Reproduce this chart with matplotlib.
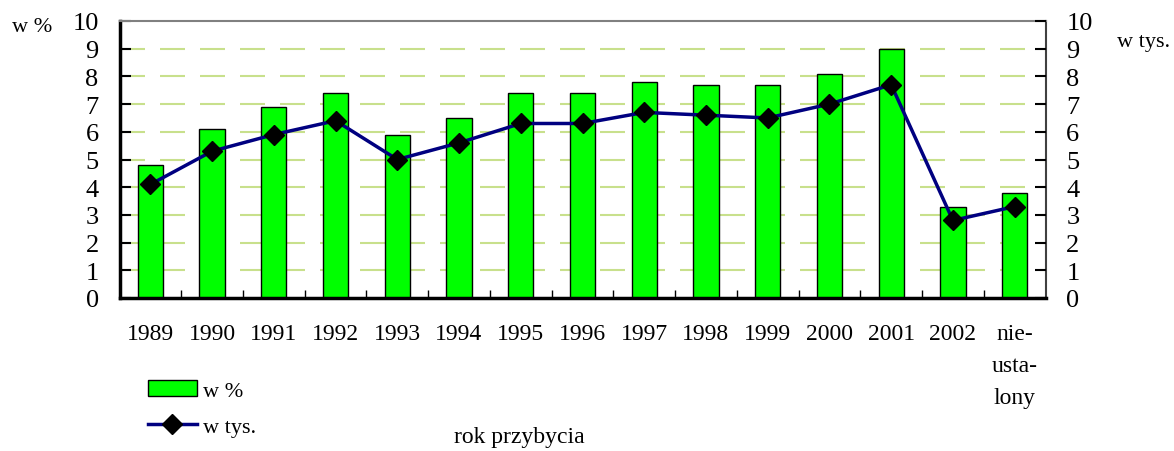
import matplotlib
matplotlib.use("Agg")
import matplotlib.pyplot as plt
from matplotlib.ticker import FixedLocator

plt.rcParams['font.family'] = ['Liberation Serif', 'DejaVu Serif']

# Data
years = ["1989", "1990", "1991", "1992", "1993", "1994", "1995", "1996",
         "1997", "1998", "1999", "2000", "2001", "2002", "nie-\nusta-\nlony"]
pct = [4.8, 6.1, 6.9, 7.4, 5.9, 6.5, 7.4, 7.4, 7.8, 7.7, 7.7, 8.1, 9.0, 3.3, 3.8]
thousands = [4.1, 5.3, 5.9, 6.4, 5.0, 5.6, 6.3, 6.3, 6.7, 6.6, 6.5, 7.0, 7.7, 2.8, 3.3]

x = list(range(len(years)))

fig = plt.figure(figsize=(11.74, 4.52), dpi=100)
ax = fig.add_axes([119.5 / 1174, 1 - 299 / 452, (1045.5 - 119.5) / 1174, (299 - 22) / 452])

# Grid
for v in range(1, 10):
    ax.axhline(v, color="#c8e08c", lw=1.5, dashes=(12, 7.2), zorder=0)

bars = ax.bar(x, pct, width=0.41, color="#00ff00", edgecolor="black", lw=1, zorder=2, label="w %")

ax.set_xlim(-0.5, len(years) - 0.5)
ax.set_ylim(0, 10)
ax.set_yticks(range(0, 11))
ax.tick_params(axis="y", direction="in", length=8, width=1.5, labelsize=19, pad=15)
ax.set_xticks(x)
ax.set_xticklabels(years, fontsize=17, va="top", linespacing=1.7)
ax.tick_params(axis="x", which="major", length=0, pad=18)
ax.xaxis.set_minor_locator(FixedLocator([i + 0.5 for i in x[:-1]]))
ax.tick_params(axis="x", which="minor", direction="in", length=6, width=1)

for side in ["left", "bottom"]:
    ax.spines[side].set_linewidth(2.5)
    ax.spines[side].set_color("black")
ax.spines["top"].set_color("#808080")
ax.spines["top"].set_linewidth(1.5)
ax.spines["right"].set_color("#404040")
ax.spines["right"].set_linewidth(1.5)

ax2 = ax.twinx()
line, = ax2.plot(x, thousands, color="#000080", lw=2.5, marker="D", markersize=10,
                 markerfacecolor="black", markeredgecolor="black", zorder=3, label="w tys.")
ax2.set_ylim(0, 10)
ax2.set_yticks(range(0, 11))
ax2.tick_params(axis="y", direction="in", length=8, width=1.5, labelsize=19, pad=15)
for s in ax2.spines.values():
    s.set_visible(False)

fig.text(12 / 1174, 1 - 28 / 452, "w %", fontsize=16, va="center", ha="left")
fig.text(1117 / 1174, 1 - 42 / 452, "w tys.", fontsize=16, va="center", ha="left")
fig.text(519 / 1174, 1 - 438 / 452, "rok przybycia", fontsize=17, va="center", ha="center")

fig.legend([bars, line], ["w %", "w tys."], loc="upper left",
           bbox_to_anchor=(139 / 1174, 1 - 372 / 452), frameon=False, fontsize=16,
           handlelength=2.2, handleheight=0.75, handletextpad=0.3, labelspacing=0.7,
           borderaxespad=0)

fig.savefig("out.png", dpi=100)
